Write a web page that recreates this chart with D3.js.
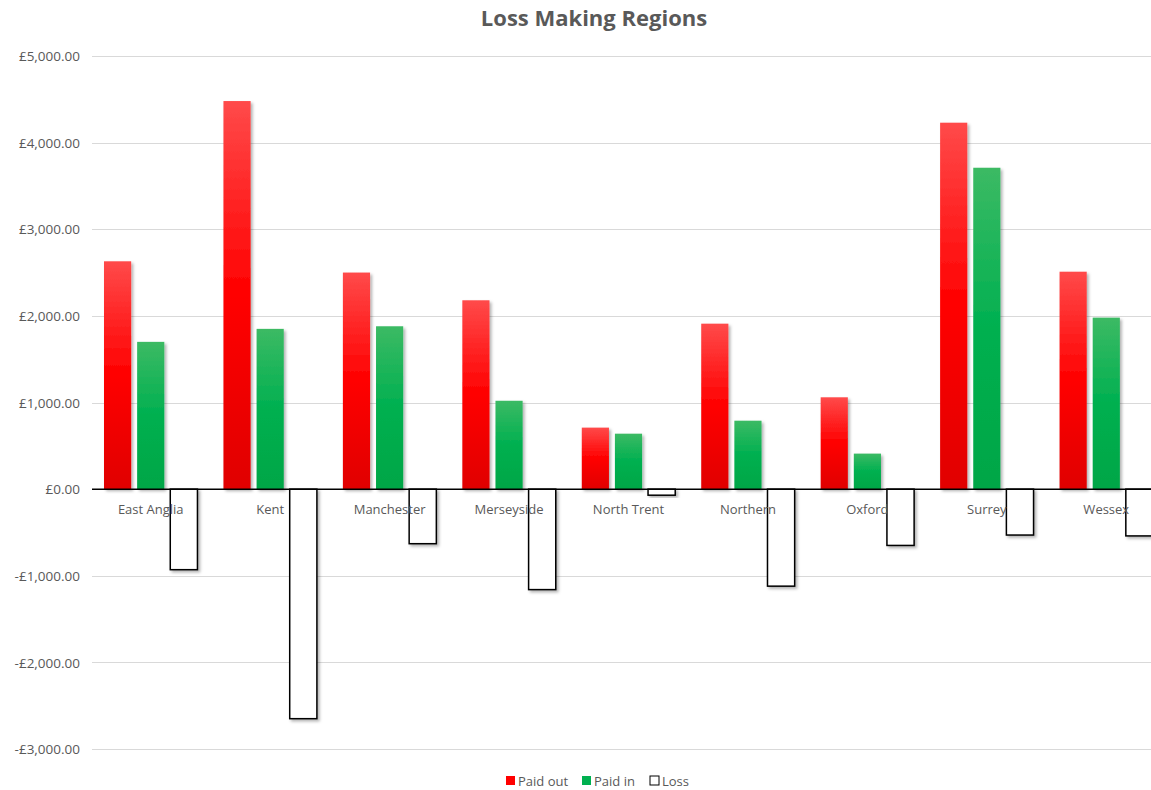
<!DOCTYPE html>
<html><head><meta charset="utf-8">
<script src="https://cdn.jsdelivr.net/npm/d3@7"></script>
<style>body{margin:0;background:#fff;overflow:hidden}svg{display:block}</style>
</head><body>
<script>
const categories = ["East Anglia","Kent","Manchester","Merseyside","North Trent","Northern","Oxford","Surrey","Wessex"];
const paidOut = [2630,4480,2500,2180,710,1910,1060,4230,2510];
const paidIn  = [1700,1850,1880,1020,640,790,410,3710,1980];
const loss    = [-930,-2650,-630,-1160,-70,-1120,-650,-530,-540];
const seriesNames = ["Paid out","Paid in","Loss"];
const yTicks = [-3000,-2000,-1000,0,1000,2000,3000,4000,5000];

const W = 1151, H = 790;
const svg = d3.select("body").append("svg").attr("width", W).attr("height", H);
const font = "'Open Sans', 'Noto Sans', sans-serif";

const defs = svg.append("defs");
function grad(id, top, mid, bot){
  const g = defs.append("linearGradient").attr("id", id).attr("x1",0).attr("y1",0).attr("x2",0).attr("y2",1);
  g.append("stop").attr("offset","0%").attr("stop-color",top);
  g.append("stop").attr("offset","50%").attr("stop-color",mid);
  g.append("stop").attr("offset","100%").attr("stop-color",bot);
}
grad("gRed", "#ff4a4a", "#ff0000", "#e00000");
grad("gGreen", "#3cba64", "#00b050", "#00a646");
const f = defs.append("filter").attr("id","shadow").attr("x","-20%").attr("y","-20%").attr("width","160%").attr("height","160%");
f.append("feDropShadow").attr("dx",2).attr("dy",2).attr("stdDeviation",1.5).attr("flood-color","#000").attr("flood-opacity",0.3);

const y = d3.scaleLinear().domain([-3000,5000]).range([749,56]);
const x0 = d3.scaleBand().domain(categories).range([91,1166]).paddingInner(0).paddingOuter(0);
const x1 = d3.scaleBand().domain(seriesNames).range([13, x0.bandwidth()-13]).paddingInner(0.18);

// title
svg.append("text").attr("x",594).attr("y",26).attr("text-anchor","middle")
  .attr("font-family",font).attr("font-weight","bold").attr("font-size",22).attr("fill","#595959")
  .text("Loss Making Regions");

// gridlines and y labels
const yAxis = d3.axisLeft(y).tickValues(yTicks).tickSize(0).tickFormat(d => (d<0?"-":"") + "£" + d3.format(",.2f")(Math.abs(d)));
const ga = svg.append("g").attr("transform","translate(80,0)").call(yAxis);
ga.select(".domain").remove();
ga.selectAll("text").attr("font-family",font).attr("font-size",13.5).attr("fill","#595959").attr("dx",0).attr("dy","0.35em").attr("x",0);

svg.append("g").selectAll("line").data(yTicks.filter(d=>d!==0)).join("line")
  .attr("x1",92).attr("x2",W).attr("y1",d=>Math.round(y(d))+0.5).attr("y2",d=>Math.round(y(d))+0.5)
  .attr("stroke","#d9d9d9").attr("stroke-width",1);

// bars
const data = categories.map((c,i)=>({c, vals:[paidOut[i], paidIn[i], loss[i]]}));
const fills = ["url(#gRed)","url(#gGreen)","#ffffff"];
const groups = svg.append("g").selectAll("g").data(data).join("g")
  .attr("transform", d=>`translate(${x0(d.c)},0)`);
groups.selectAll("rect").data(d=>d.vals.map((v,k)=>({v,k}))).join("rect")
  .attr("x", d=>x1(seriesNames[d.k]))
  .attr("width", x1.bandwidth())
  .attr("y", d=>Math.min(y(d.v), y(0)))
  .attr("height", d=>Math.abs(y(d.v)-y(0)))
  .attr("fill", d=>fills[d.k])
  .attr("stroke", d=>d.k===2?"#000":"none")
  .attr("stroke-width", 1.5)
  .attr("filter","url(#shadow)");

// zero line
svg.append("line").attr("x1",92).attr("x2",W).attr("y1",y(0)).attr("y2",y(0)).attr("stroke","#000").attr("stroke-width",1.5);

// category labels (drawn over bars)
const xAxis = d3.axisBottom(x0).tickSize(0);
const gx = svg.append("g").attr("transform",`translate(0,${y(0)})`).call(xAxis);
gx.select(".domain").remove();
gx.selectAll("text").attr("font-family",font).attr("font-size",13).attr("fill","#595959").attr("dy","1.65em");

// legend
const legendItems = [{n:"Paid out",fill:"#ff0000",stroke:"none",x:506},{n:"Paid in",fill:"#00b050",stroke:"none",x:582},{n:"Loss",fill:"#fff",stroke:"#000",x:650}];
const lg = svg.append("g");
legendItems.forEach(it=>{
  lg.append("rect").attr("x",it.x).attr("y",776).attr("width",9).attr("height",9)
    .attr("fill",it.fill).attr("stroke",it.stroke).attr("stroke-width",1);
  lg.append("text").attr("x",it.x+12).attr("y",785.5).attr("font-family",font).attr("font-size",13).attr("fill","#595959").text(it.n);
});
</script>
</body></html>
